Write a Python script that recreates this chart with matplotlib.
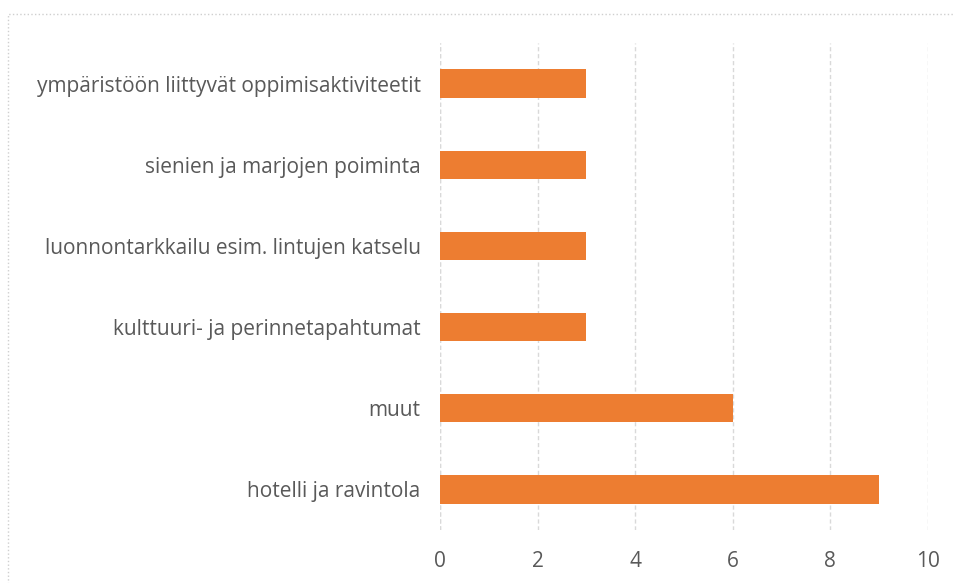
import matplotlib
matplotlib.use('Agg')
import matplotlib.pyplot as plt
from matplotlib.patches import Rectangle

categories = ['hotelli ja ravintola', 'muut', 'kulttuuri- ja perinnetapahtumat',
              'luonnontarkkailu esim. lintujen katselu', 'sienien ja marjojen poiminta',
              'ympäristöön liittyvät oppimisaktiviteetit']
values = [9, 6, 3, 3, 3, 3]
xticks = [0, 2, 4, 6, 8, 10]

plt.rcParams['font.family'] = ['Open Sans', 'DejaVu Sans']

fig = plt.figure(figsize=(9.55, 5.83), dpi=100)
ax = fig.add_axes([0.4607, 0.0909, 0.5110, 0.8353])

# chart area border
fig.patches.append(Rectangle((0.0084, -0.05), 1.1, 1.026, transform=fig.transFigure,
                             fill=False, edgecolor='#CFCFCF', linewidth=1, linestyle=':'))

ax.barh(range(len(categories)), values, height=0.35, color='#ED7D31', zorder=3)
ax.set_yticks(range(len(categories)))
ax.set_yticklabels(categories)
ax.set_xticks(xticks)
ax.set_xlim(0, 10)
ax.set_ylim(-0.5, len(categories) - 0.5)

ax.grid(axis='x', color='#D9D9D9', linestyle=(0, (3, 2)), linewidth=1, zorder=0)
ax.axvline(0, color='#D9D9D9', linestyle=(0, (3, 2)), linewidth=1, zorder=1)
for s in ax.spines.values():
    s.set_visible(False)
ax.tick_params(length=0, labelsize=15, labelcolor='#595959')
ax.tick_params(axis='x', pad=15)
ax.tick_params(axis='y', pad=14)

fig.savefig('out.png', dpi=100)
